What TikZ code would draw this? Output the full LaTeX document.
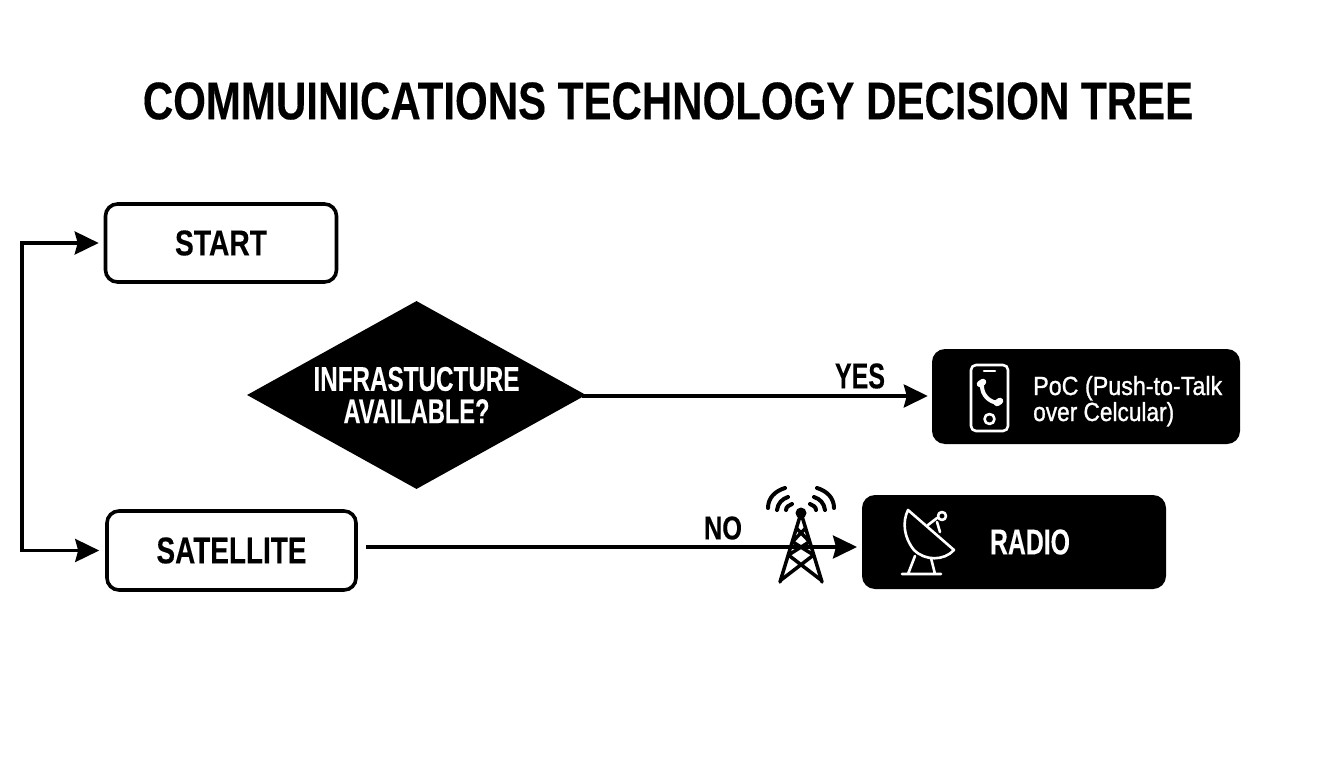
\documentclass[tikz,border=0pt]{standalone}
\usepackage{fontspec}
\setmainfont{Liberation Sans}[BoldFeatures={FakeBold=0.25}]
\usetikzlibrary{shapes.geometric,arrows.meta}
\newcommand{\fitb}[3]{\resizebox{#1pt}{#2pt}{\bfseries #3}}
\newcommand{\fitm}[3]{\resizebox{#1pt}{#2pt}{\addfontfeatures{FakeBold=1.2}#3}}
\tikzset{
  x=1pt,y=-1pt,
  flow/.style={line width=3.4pt,-{Stealth[length=24pt,width=23pt,inset=3pt]},black},
  twoway/.style={line width=3.4pt,{Stealth[length=24pt,width=23pt,inset=3pt]}-{Stealth[length=24pt,width=23pt,inset=3pt]},black,line join=miter},
  outlinebox/.style={draw=black,line width=3.6pt,fill=white,rounded corners=12pt,inner sep=0pt},
  darkbox/.style={fill=black,rounded corners=13pt,inner sep=0pt},
  label/.style={inner sep=0pt,text=black},
  whitelabel/.style={inner sep=0pt,text=white},
  iconw/.style={draw=white,line width=2.6pt,line cap=round,line join=round},
  tower/.style={draw=black,line width=3.5pt,line cap=round,line join=round},
  wave/.style={draw=black,line width=4pt,line cap=round},
}
\begin{document}
\begin{tikzpicture}
\useasboundingbox[fill=white] (0,0) rectangle (1344,768);
\node[label] (title) at (668,101) {\fitb{1050}{37}{COMMUINICATIONS TECHNOLOGY DECISION TREE}};
\node[outlinebox,minimum width=231pt,minimum height=78pt] (start) at (221,243) {\fitb{92}{25}{START}};
\node[outlinebox,minimum width=249pt,minimum height=79pt] (sat) at (231.5,550.5) {\fitb{150}{26}{SATELLITE}};
\node[diamond,fill=black,aspect=1.8,minimum width=339pt,minimum height=188pt,inner sep=0pt,text=white,align=center] (dec) at (416.5,395)
  {\fitb{206}{24}{INFRASTUCTURE}\\[7pt]\fitb{146}{24}{AVAILABLE?}};
\node[darkbox,minimum width=308pt,minimum height=95pt] (poc) at (1086,396.5) {};
\node[darkbox,minimum width=304pt,minimum height=94pt] (radio) at (1014,542) {};
\node[whitelabel,anchor=base west] (poc1) at (1033,395) {\fitm{189}{19}{PoC (Push-to-Talk}};
\node[whitelabel,anchor=base west] (poc2) at (1033,421) {\fitm{141}{19}{over Celcular)}};
\node[whitelabel,anchor=center] (radiot) at (1030,542) {\fitb{80}{25}{RADIO}};
\node[label] (yes) at (860,376) {\fitb{50}{25}{YES}};
\node[label] (no) at (723,528) {\fitb{38}{23}{NO}};
% connectors
\coordinate (trunk) at (22,400);
\coordinate (satout) at (366,547);
\coordinate (radioin) at (857,547);
\draw[twoway] ([xshift=-5pt]start.west) -- (start.west -| trunk) -- (sat.west -| trunk) -- ([xshift=-6pt]sat.west);
\draw[flow] ([xshift=-4pt,yshift=-1pt]dec.east) -- ([xshift=-4pt,yshift=-1pt]poc.west |- dec.east);
\draw[flow] (satout) -- (radioin);
% tower
\draw[tower] (801,513) -- (780,582) (801,513) -- (822,582);
\fill[black] (801,513) circle (5.5pt);
\draw[tower] (796.5,528.3) -- (809.6,541.7) (805.5,528.3) -- (792.4,541.7)
  (792.4,541.7) -- (813.6,555) (809.6,541.7) -- (788.4,555)
  (788.4,555) -- (821,580) (813.6,555) -- (781,580);
\draw[wave] (768,508) .. controls (768,498) and (775,491) .. (785,488)
  (777,510) .. controls (778,503) and (782,499) .. (788,497)
  (786,510) .. controls (786,507) and (789,505) .. (792,504);
\draw[wave] (834,508) .. controls (834,498) and (827,491) .. (817,488)
  (825,510) .. controls (824,503) and (820,499) .. (814,497)
  (816,510) .. controls (816,507) and (813,505) .. (810,504);
% phone
\draw[iconw,rounded corners=5pt] (971,365) rectangle (1008,431);
\draw[iconw] (984,371) -- (995,371);
\draw[iconw] (989.5,419) circle (5pt);
\draw[white,line width=4pt,line cap=round] (982,386) .. controls (982,395) and (989,402) .. (998,403);
\draw[white,line width=6.5pt,line cap=round] (980,384) -- (983,382) (997,403) -- (1000,401);
% dish
\draw[iconw] (908,510) -- (954,550) .. controls (944,561) and (925,561) .. (914,550) .. controls (904,538) and (902,522) .. (908,510) -- cycle;
\draw[iconw] (928,525) -- (937,518) (937,522) -- (940,532);
\draw[iconw] (942,516) circle (4pt);
\draw[iconw] (915,556) -- (908,574) (931,558) -- (935,574) (902,574) -- (941,574);
\end{tikzpicture}
\end{document}
